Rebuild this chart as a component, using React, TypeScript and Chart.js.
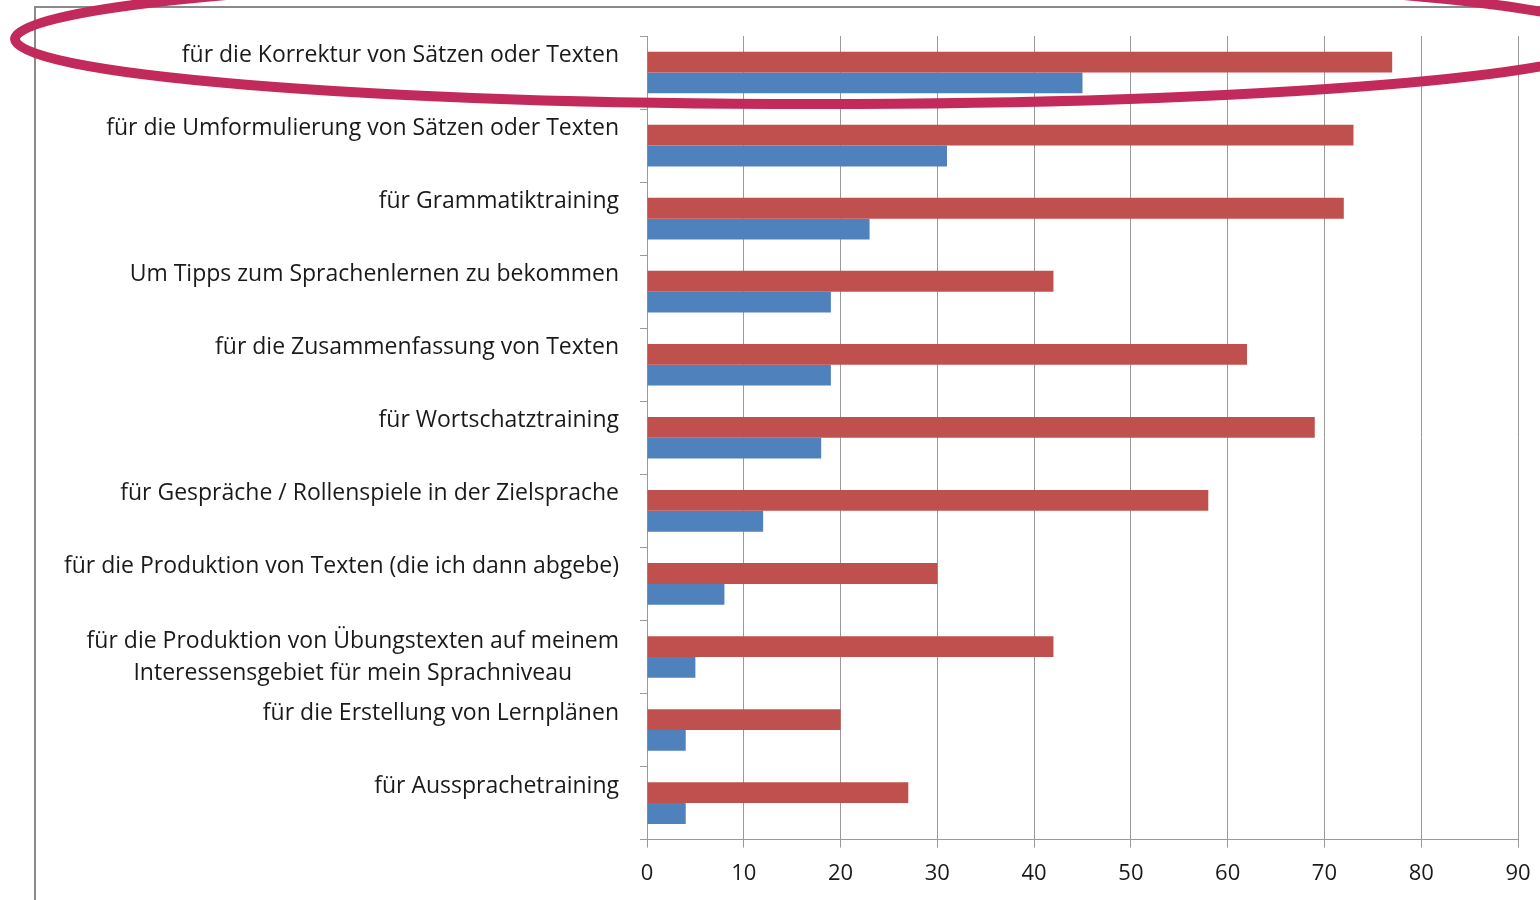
import React, { useEffect, useRef } from "react";
import { Chart, registerables } from "chart.js";

Chart.register(...registerables);

// ---- data ----
const categories: string[][] = [
  ["für die Korrektur von Sätzen oder Texten"],
  ["für die Umformulierung von Sätzen oder Texten"],
  ["für Grammatiktraining"],
  ["Um Tipps zum Sprachenlernen zu bekommen"],
  ["für die Zusammenfassung von Texten"],
  ["für Wortschatztraining"],
  ["für Gespräche / Rollenspiele in der Zielsprache"],
  ["für die Produktion von Texten (die ich dann abgebe)"],
  ["für die Produktion von Übungstexten auf meinem", "Interessensgebiet für mein Sprachniveau"],
  ["für die Erstellung von Lernplänen"],
  ["für Aussprachetraining"],
];

const redSeriesName = "Datenreihe 1";
const redValues = [77, 73, 72, 42, 62, 69, 58, 30, 42, 20, 27];

const blueSeriesName = "Datenreihe 2";
const blueValues = [45, 31, 23, 19, 19, 18, 12, 8, 5, 4, 4];

const xMin = 0;
const xMax = 90;
const xStep = 10;

// ---- styles ----
const FONT = "'Open Sans', 'Noto Sans', sans-serif";
const TEXT_COLOR = "#1a1a1a";
const GRID_COLOR = "#9a9a9a";
const RED = "#C0504D";
const BLUE = "#4F81BD";

const framePlugin = {
  id: "frame",
  beforeDraw(chart: any) {
    const ctx = chart.ctx;
    ctx.save();
    ctx.fillStyle = "#ffffff";
    ctx.fillRect(0, 0, chart.width, chart.height);
    ctx.strokeStyle = "#8a8a8a";
    ctx.lineWidth = 2;
    ctx.beginPath();
    ctx.moveTo(35, chart.height);
    ctx.lineTo(35, 7);
    ctx.lineTo(chart.width, 7);
    ctx.stroke();
    ctx.restore();
  },
};

const labelPlugin = {
  id: "catLabels",
  afterDraw(chart: any) {
    const ctx = chart.ctx;
    const yScale = chart.scales.y;
    const right = chart.chartArea.left - 28;
    ctx.save();
    ctx.font = `23px ${FONT}`;
    ctx.fillStyle = TEXT_COLOR;
    ctx.textBaseline = "middle";
    ctx.textAlign = "center";
    (chart.data.labels as any[]).forEach((lab, i) => {
      const lines: string[] = Array.isArray(lab) ? lab : [lab];
      const c = yScale.getPixelForValue(i);
      const w = Math.max(...lines.map((l) => ctx.measureText(l).width));
      const cx = right - w / 2;
      lines.forEach((l, k) => {
        const yy = lines.length === 1 ? c - 17 : c + (k - (lines.length - 1) / 2) * 32;
        ctx.fillText(l, cx, yy);
      });
    });
    ctx.restore();
  },
};

const ellipsePlugin = {
  id: "highlight",
  afterDraw(chart: any) {
    const ctx = chart.ctx;
    ctx.save();
    ctx.strokeStyle = "#C22A5C";
    ctx.lineWidth = 10;
    ctx.beginPath();
    ctx.ellipse(815, 39, 800, 65, 0, 0, Math.PI * 2);
    ctx.stroke();
    ctx.restore();
  },
};

export default function App() {
  const ref = useRef<HTMLCanvasElement>(null);

  useEffect(() => {
    document.body.style.margin = "0";
    const canvas = ref.current!;
    const chart = new Chart(canvas, {
      type: "bar",
      data: {
        labels: categories as any,
        datasets: [
          {
            label: redSeriesName,
            data: redValues,
            backgroundColor: RED,
            categoryPercentage: 0.57,
            barPercentage: 1.0,
          },
          {
            label: blueSeriesName,
            data: blueValues,
            backgroundColor: BLUE,
            categoryPercentage: 0.57,
            barPercentage: 1.0,
          },
        ],
      },
      options: {
        indexAxis: "y",
        responsive: false,
        animation: false,
        layout: { padding: { left: 640, right: 22, top: 36, bottom: 0 } },
        plugins: {
          legend: { display: false },
          tooltip: { enabled: false },
          title: { display: false },
        },
        scales: {
          x: {
            min: xMin,
            max: xMax,
            afterFit(scale: any) {
              scale.paddingRight = 0;
              scale.paddingLeft = 0;
            },
            ticks: {
              stepSize: xStep,
              color: TEXT_COLOR,
              font: { family: FONT, size: 22 },
              padding: 13,
            },
            grid: {
              color: GRID_COLOR,
              lineWidth: 1,
              tickLength: 8,
              drawTicks: true,
            },
            border: { display: true, color: GRID_COLOR, width: 1 },
          },
          y: {
            ticks: { display: false },
            grid: {
              display: true,
              drawOnChartArea: false,
              drawTicks: true,
              tickLength: 7,
              color: GRID_COLOR,
              offset: true,
            },
            border: { display: true, color: GRID_COLOR, width: 1 },
          },
        },
      },
      plugins: [framePlugin, labelPlugin, ellipsePlugin],
    });
    return () => chart.destroy();
  }, []);

  return (
    <div style={{ width: 1540, height: 900, position: "relative" }}>
      <canvas ref={ref} width={1540} height={900} style={{ display: "block", width: 1540, height: 900 }} />
    </div>
  );
}
